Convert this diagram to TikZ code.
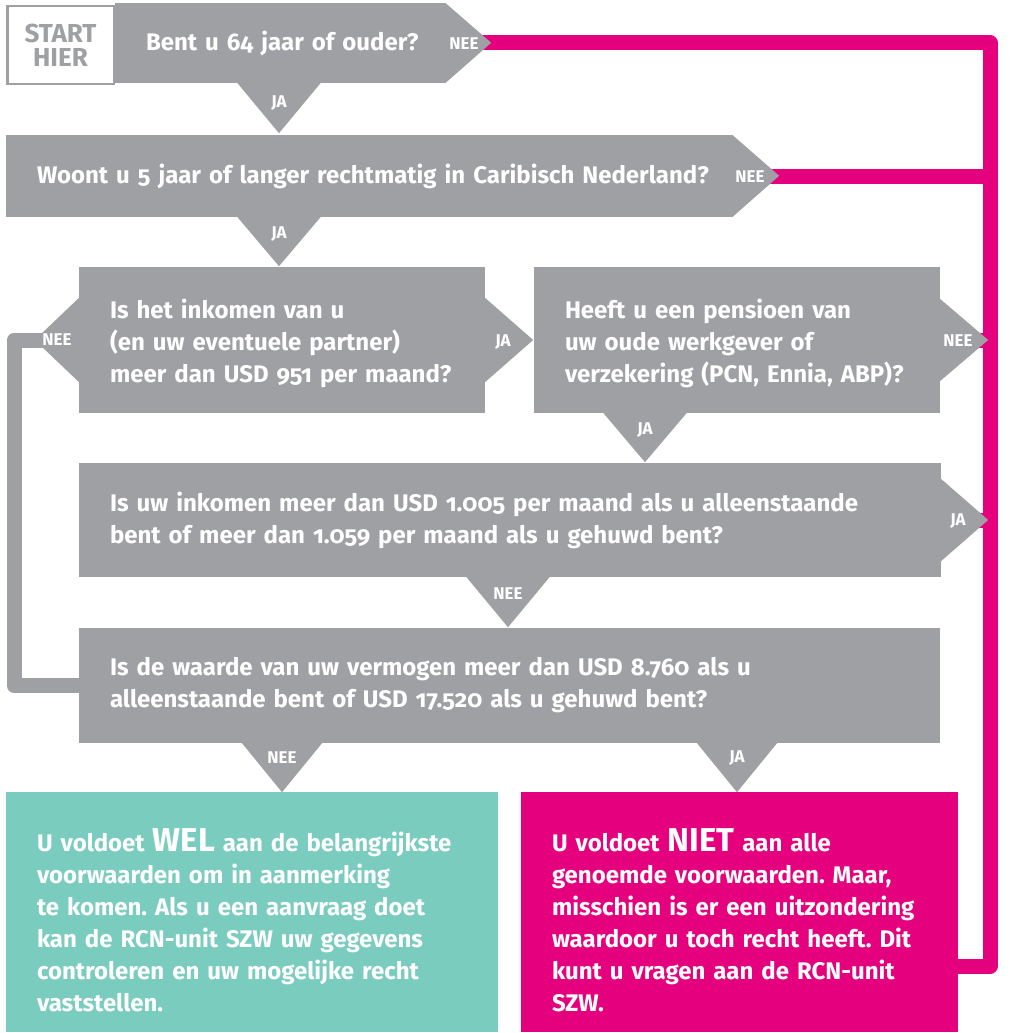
\documentclass[tikz,border=0pt]{standalone}
\usepackage{fontspec}
\setmainfont{Fira Sans}[Numbers=OldStyle]
\usepackage{tikz}
\frenchspacing

\definecolor{qgray}{RGB}{159,160,164}
\definecolor{nee}{RGB}{229,0,126}
\definecolor{wel}{RGB}{122,204,190}

\pgfdeclarelayer{bg}
\pgfsetlayers{bg,main}

\begin{document}
\begin{tikzpicture}[x=1pt, y=-1pt, font=\fontsize{24}{32}\selectfont\bfseries,
	box/.style={fill=qgray, text=white, align=left, inner xsep=31pt, inner ysep=4pt},
	tip/.style={fill=qgray},
	lbl/.style={text=white, inner sep=0pt, font=\fontsize{17}{17}\selectfont\bfseries},
	wire/.style={line width=15pt, line join=round}]
	\useasboundingbox (0, 0) rectangle (1018, 1033);

	% vragen
	\node[box, text width=268, minimum height=80] (b1) at (280, 43) {\mbox{Bent u 64 jaar of ouder?}};
	\node[box, text width=664, minimum height=82] (b2) at (369, 176) {\mbox{Woont u 5 jaar of langer rechtmatig in Caribisch Nederland?}};
	\node[box, text width=344, minimum height=146] (b3) at (282, 340) {\rule{0pt}{26pt}Is het inkomen van u\\(en uw eventuele partner)\\meer dan USD 951 per maand?};
	\node[box, text width=344, minimum height=146] (b4) at (737, 340) {\rule{0pt}{26pt}Heeft u een pensioen van\\uw oude werkgever of\\verzekering (PCN, Ennia, ABP)?};
	\node[box, text width=800, minimum height=114] (b5) at (510, 520) {Is uw inkomen meer dan USD 1.005 per maand als u alleenstaande\\bent of meer dan 1.059 per maand als u gehuwd bent?};
	\node[box, text width=799, minimum height=115] (b6) at (509.5, 685.5) {Is de waarde van uw vermogen meer dan USD 8.760 als u\\alleenstaande bent of USD 17.520 als u gehuwd bent?};

	% uitkomsten
	\node[box, fill=wel, text width=430, minimum height=240] (wel) at (252, 912) {\rule{0pt}{40pt}U voldoet {\fontsize{33}{32}\selectfont WEL} aan de belangrijkste\\voorwaarden om in aanmerking\\te komen. Als u een aanvraag doet\\kan de RCN-unit SZW uw gegevens\\controleren en uw mogelijke recht\\vaststellen.};
	\node[box, fill=nee, text width=375, minimum height=240] (niet) at (739.5, 912) {\rule{0pt}{40pt}U voldoet {\fontsize{33}{32}\selectfont NIET} aan alle\\genoemde voorwaarden. Maar,\\misschien is er een uitzondering\\waardoor u toch recht heeft. Dit\\kunt u vragen aan de RCN-unit\\SZW.};

	\node[draw=qgray, line width=2.5pt, fill=white, text=qgray, minimum width=106.5, minimum height=77.5, inner sep=0pt, align=center, font=\fontsize{26}{24}\selectfont\bfseries] (start) at (60.5, 45) {START\\HIER};

	% pijlpunten
	\fill[tip] (b1.north east) -- ++(46, 40) -- (b1.south east) -- cycle;
	\fill[tip] (b2.north east) -- ++(47, 41) -- (b2.south east) -- cycle;
	\fill[tip] (b3.west) ++(0, -42) -- ++(-44, 42) -- ++(44, 42) -- cycle;
	\fill[tip] (b3.east) ++(0, -42) -- ++(48, 42) -- ++(-48, 42) -- cycle;
	\fill[tip] (b4.east) ++(0, -41) -- ++(48, 41) -- ++(-48, 41) -- cycle;
	\fill[tip] (b5.east) ++(0, -41) -- ++(47, 41) -- ++(-47, 41) -- cycle;
	\fill[tip] (b1.south) ++(-42.5, 0) -- ++(41.5, 50) -- ++(41.5, -50) -- cycle;
	\fill[tip] ([xshift=-90pt]b2.south) ++(-41.5, 0) -- ++(41.5, 49) -- ++(41.5, -49) -- cycle;
	\fill[tip] ([xshift=-92pt]b4.south) ++(-41.5, 0) -- ++(41.5, 49) -- ++(41.5, -49) -- cycle;
	\fill[tip] ([xshift=-2pt]b5.south) ++(-41.5, 0) -- ++(41.5, 50) -- ++(41.5, -50) -- cycle;
	\fill[tip] ([xshift=-227.5pt]b6.south) ++(-40, 0) -- ++(40, 49) -- ++(40, -49) -- cycle;
	\fill[tip] ([xshift=227.5pt]b6.south) ++(-40, 0) -- ++(40, 49) -- ++(40, -49) -- cycle;

	% labels
	\node[lbl] (nee1) at (464, 44) {NEE};
	\node[lbl] (ja1) at (279, 103) {JA};
	\node[lbl] (nee2) at (750, 177) {NEE};
	\node[lbl] (ja2) at (279, 234) {JA};
	\node[lbl] (nee3) at (57, 340) {NEE};
	\node[lbl] (ja3) at (503, 342) {JA};
	\node[lbl] (nee4) at (958, 341) {NEE};
	\node[lbl] (ja4) at (645, 430) {JA};
	\node[lbl] (ja5) at (958, 521) {JA};
	\node[lbl] (nee5) at (508, 594) {NEE};
	\node[lbl] (nee6) at (282, 758) {NEE};
	\node[lbl] (ja6) at (737, 758) {JA};

	% lijnen
	\coordinate (rail) at (990, 966);
	\coordinate (terug) at (14, 685.5);
	\begin{pgfonlayer}{bg}
		\draw[wire, nee] (b1.east) -| (rail) -- (rail -| niet.east);
		\draw[wire, nee] (b2.east) -- (b2.east -| rail);
		\draw[wire, nee] (b4.east) -- (b4.east -| rail);
		\draw[wire, nee] (b5.east) -- (b5.east -| rail);
		\draw[wire, qgray] (b3.west) -| (terug) -- (b6.west);
	\end{pgfonlayer}
\end{tikzpicture}
\end{document}
